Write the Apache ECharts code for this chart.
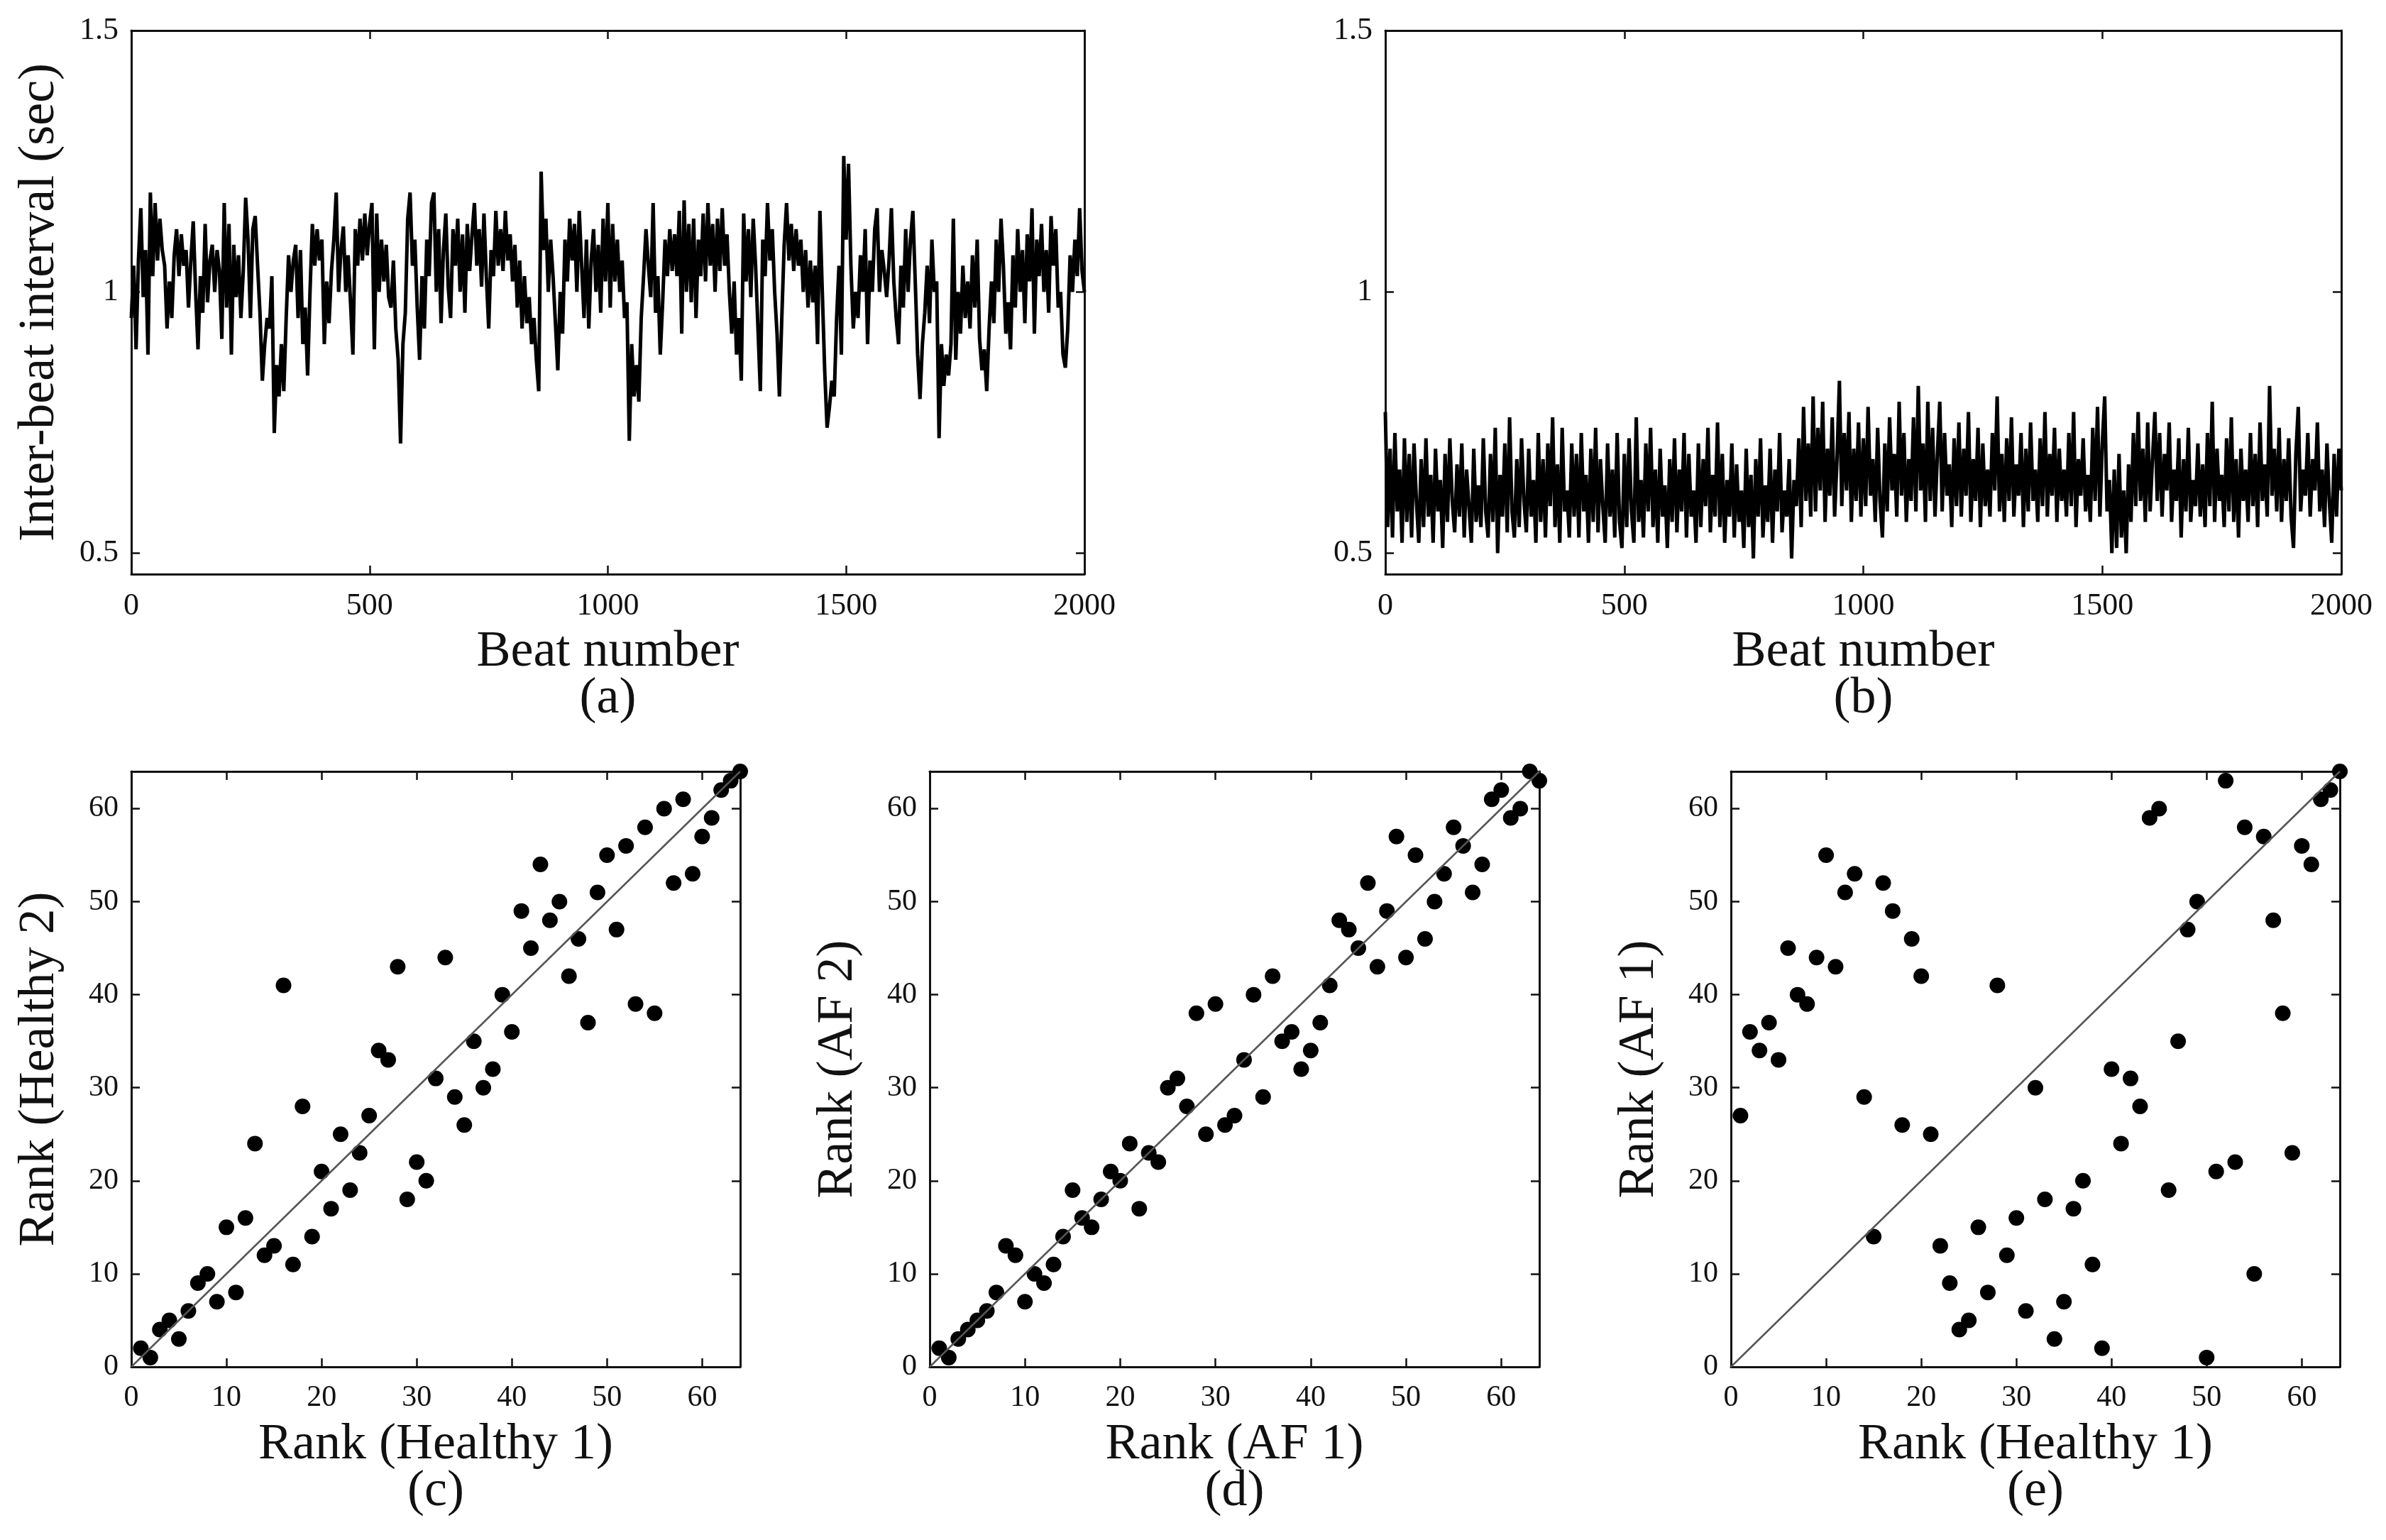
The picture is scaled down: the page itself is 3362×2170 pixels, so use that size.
<!DOCTYPE html>
<html>
<head>
<meta charset="utf-8">
<title>Inter-beat intervals and rank plots</title>
<script src="https://cdn.jsdelivr.net/npm/echarts@6/dist/echarts.min.js"></script>
<style>
  html, body { margin: 0; padding: 0; background: #fff; }
  #container { width: 3362px; height: 2170px; }
</style>
</head>
<body>
<div id="container"></div>
<script>
// inter-beat intervals (sec), one value every 5 beats (a) and (b)
var beatStep = 5;
var ibiHealthy = [
  0.95,1.05,0.89,1.06,1.16,0.99,1.08,0.88,1.19,1.03,1.17,1.06,1.14,1.08,1.05,0.93,1.02,0.95,1.07,1.12,
  1.03,1.11,1.05,1.08,0.97,1.06,1.135,1.00,0.89,1.03,0.96,1.13,0.98,1.06,1.09,1.00,1.08,1.04,0.91,1.17,
  0.97,1.13,0.88,1.09,0.99,1.07,0.95,1.04,1.18,1.10,0.95,1.12,1.145,1.05,0.96,0.83,0.90,0.95,0.93,1.03,
  0.73,0.86,0.80,0.90,0.81,0.95,1.07,1.00,1.06,1.09,0.95,1.08,0.90,0.97,0.84,1.00,1.13,1.05,1.12,1.06,
  1.10,0.90,1.02,0.94,1.04,1.10,1.19,1.00,1.08,1.125,1.00,1.07,0.98,0.88,1.12,1.05,1.14,1.06,1.15,1.07,
  1.13,1.17,0.89,1.15,1.00,1.10,1.02,1.09,0.99,0.97,1.06,0.93,0.87,0.71,0.90,0.96,1.14,1.19,1.05,1.10,
  0.97,0.87,1.03,0.93,1.10,1.03,1.17,1.19,1.00,1.12,0.94,1.08,1.15,1.01,0.95,1.12,1.05,1.14,1.00,1.11,
  0.96,1.13,1.04,1.11,1.17,1.05,1.12,1.01,1.15,1.03,0.93,1.08,1.03,1.155,1.05,1.12,1.04,1.155,1.06,1.11,
  1.02,1.09,0.97,1.06,0.93,1.03,0.94,0.99,0.90,0.95,0.87,0.81,1.23,1.08,1.14,1.00,1.10,1.03,0.94,0.85,
  1.00,0.92,1.10,1.02,1.14,1.06,1.13,1.00,1.155,1.05,0.95,1.10,0.93,1.06,1.12,1.00,1.09,0.96,1.14,1.02,
  1.17,0.97,1.13,1.02,1.10,1.00,1.06,0.95,0.98,0.715,0.90,0.80,0.86,0.79,0.95,1.03,1.12,1.05,0.99,1.17,
  0.96,1.03,0.88,0.98,1.10,1.03,1.12,1.04,1.11,1.03,1.155,0.92,1.175,1.00,1.13,0.98,1.14,0.95,1.10,1.03,
  1.15,1.02,1.17,1.05,1.13,1.00,1.14,1.04,1.16,1.05,1.11,1.00,0.92,1.02,0.88,0.95,0.83,1.15,1.02,1.12,
  0.99,1.14,1.05,0.93,0.81,1.10,1.03,1.17,1.06,1.12,1.00,0.92,0.80,0.95,1.09,1.17,1.06,1.13,1.04,1.12,
  1.05,1.10,1.00,1.08,0.97,1.06,0.98,1.05,0.90,1.155,1.00,0.85,0.74,0.78,0.83,0.80,0.95,1.05,0.88,1.26,
  1.10,1.245,1.05,0.93,1.00,0.95,1.07,1.00,1.12,0.90,1.06,1.00,1.12,1.16,1.00,1.08,1.04,0.99,1.06,1.16,
  1.02,0.95,0.90,1.05,0.97,1.12,1.00,1.10,1.155,1.02,0.88,0.795,0.90,0.96,1.05,0.94,1.10,1.00,1.02,0.72,
  0.90,0.82,0.88,0.84,0.90,1.14,0.87,1.00,0.92,1.05,0.95,1.02,0.93,1.07,0.97,1.10,0.91,0.85,0.89,0.81,
  0.93,1.02,0.94,1.10,1.00,1.14,1.05,0.92,0.98,0.89,1.07,0.97,1.12,1.00,1.08,0.94,1.11,1.02,1.16,0.92,
  1.10,1.03,1.13,1.00,1.08,0.96,1.145,1.05,1.12,0.97,1.00,0.88,0.855,0.93,1.07,1.00,1.10,1.03,1.16,1.04,
  1.00
];
var ibiAF = [
  0.77,0.55,0.70,0.53,0.73,0.58,0.66,0.52,0.72,0.56,0.69,0.53,0.71,0.60,0.52,0.68,0.55,0.72,0.57,0.65,
  0.52,0.70,0.58,0.64,0.51,0.69,0.56,0.72,0.60,0.54,0.67,0.57,0.71,0.53,0.66,0.59,0.52,0.70,0.56,0.63,
  0.55,0.72,0.58,0.53,0.69,0.56,0.74,0.50,0.65,0.57,0.71,0.54,0.76,0.58,0.53,0.68,0.55,0.72,0.60,0.54,
  0.70,0.57,0.64,0.52,0.73,0.56,0.68,0.53,0.71,0.59,0.76,0.55,0.67,0.52,0.74,0.58,0.62,0.53,0.71,0.57,
  0.69,0.53,0.73,0.58,0.65,0.52,0.70,0.56,0.74,0.54,0.68,0.59,0.52,0.71,0.57,0.66,0.53,0.73,0.56,0.51,
  0.69,0.55,0.72,0.58,0.52,0.76,0.56,0.64,0.53,0.71,0.58,0.74,0.55,0.66,0.52,0.70,0.57,0.63,0.51,0.68,
  0.56,0.72,0.54,0.66,0.58,0.73,0.53,0.69,0.57,0.62,0.52,0.71,0.55,0.68,0.59,0.74,0.54,0.65,0.57,0.75,
  0.55,0.69,0.52,0.64,0.57,0.71,0.53,0.67,0.56,0.62,0.51,0.70,0.55,0.65,0.49,0.68,0.57,0.72,0.53,0.63,
  0.56,0.70,0.52,0.66,0.58,0.73,0.54,0.62,0.57,0.68,0.49,0.64,0.59,0.72,0.55,0.78,0.60,0.71,0.57,0.80,
  0.58,0.74,0.62,0.79,0.56,0.70,0.61,0.76,0.57,0.68,0.83,0.59,0.73,0.62,0.77,0.56,0.70,0.60,0.75,0.57,
  0.72,0.59,0.78,0.61,0.68,0.56,0.74,0.60,0.53,0.71,0.58,0.76,0.62,0.69,0.57,0.79,0.61,0.73,0.56,0.68,
  0.60,0.76,0.58,0.82,0.62,0.71,0.56,0.79,0.60,0.74,0.57,0.69,0.79,0.58,0.73,0.61,0.67,0.55,0.72,0.59,
  0.75,0.57,0.70,0.61,0.77,0.56,0.68,0.60,0.74,0.55,0.71,0.59,0.66,0.57,0.73,0.62,0.80,0.58,0.69,0.56,
  0.72,0.60,0.76,0.57,0.67,0.61,0.73,0.55,0.70,0.58,0.75,0.60,0.66,0.56,0.72,0.59,0.77,0.57,0.69,0.61,
  0.74,0.56,0.70,0.60,0.66,0.57,0.73,0.59,0.77,0.55,0.68,0.61,0.72,0.58,0.65,0.56,0.74,0.60,0.78,0.57,
  0.71,0.80,0.58,0.64,0.50,0.66,0.51,0.69,0.53,0.62,0.50,0.67,0.56,0.73,0.59,0.77,0.60,0.70,0.56,0.75,
  0.58,0.68,0.77,0.60,0.73,0.57,0.69,0.62,0.75,0.56,0.66,0.60,0.72,0.53,0.68,0.58,0.74,0.56,0.64,0.59,
  0.71,0.57,0.67,0.55,0.73,0.59,0.79,0.56,0.70,0.60,0.65,0.55,0.72,0.58,0.76,0.56,0.68,0.53,0.70,0.60,
  0.66,0.56,0.73,0.59,0.69,0.55,0.75,0.60,0.67,0.57,0.82,0.61,0.70,0.58,0.74,0.56,0.68,0.60,0.72,0.57,
  0.51,0.69,0.78,0.58,0.66,0.61,0.73,0.57,0.68,0.62,0.75,0.58,0.66,0.55,0.71,0.60,0.52,0.69,0.57,0.70,
  0.62
];

// rank plots: x rank 1..64 against the rank of the paired series
var rankIndex = [1,2,3,4,5,6,7,8,9,10,11,12,13,14,15,16,17,18,19,20,21,22,23,24,25,26,27,28,29,30,31,32,
  33,34,35,36,37,38,39,40,41,42,43,44,45,46,47,48,49,50,51,52,53,54,55,56,57,58,59,60,61,62,63,64];
var rankHealthy2 = [2,1,4,5,3,6,9,10,7,15,8,16,24,12,13,41,11,28,14,21,17,25,19,23,27,34,33,43,18,22,20,31,
  44,29,26,35,30,32,40,36,49,45,54,48,50,42,46,37,51,55,47,56,39,58,38,60,52,61,53,57,59,62,63,64];
var rankAF2 = [2,1,3,4,5,6,8,13,12,7,10,9,11,14,19,16,15,18,21,20,24,17,23,22,30,31,28,38,25,39,26,27,
  33,40,29,42,35,36,32,34,37,41,48,47,45,52,43,49,57,44,55,46,50,53,58,56,51,54,61,62,59,60,64,63];
var rankAF1 = [27,36,34,37,33,45,40,39,44,55,43,51,53,29,14,52,49,26,46,42,25,13,9,4,5,15,8,41,12,16,6,30,
  18,3,7,17,20,11,2,32,24,31,28,59,60,19,35,47,50,1,21,63,22,58,10,57,48,38,23,56,54,61,62,64];

var beatTicks = [0, 500, 1000, 1500, 2000];
var ibiTicks = [0.5, 1, 1.5];
var rankTicks = [0, 10, 20, 30, 40, 50, 60];

var FONT = 'Liberation Serif';
var INK = '#111';

var grids = [
  { left: 185, top: 43, width: 1343, height: 766 },   // (a)
  { left: 1952, top: 43, width: 1347, height: 766 },  // (b)
  { left: 185, top: 1087, width: 858, height: 839 },  // (c)
  { left: 1310, top: 1087, width: 859, height: 839 }, // (d)
  { left: 2439, top: 1087, width: 858, height: 839 }  // (e)
];

function plain(v) { return String(v); }

function boxX(grid, min, max, ticks, name, fs) {
  var line = { show: true, onZero: false, lineStyle: { color: INK, width: 3 } };
  var tick = { show: true, inside: true, length: 12, customValues: ticks, lineStyle: { color: INK, width: 2.5 } };
  return [{
    type: 'value', gridIndex: grid, position: 'bottom', min: min, max: max,
    axisLine: line, axisTick: tick, splitLine: { show: false },
    axisLabel: { customValues: ticks, formatter: plain, fontFamily: FONT, fontSize: fs, lineHeight: fs, color: INK, margin: 23 },
    name: name, nameLocation: 'middle', nameGap: 77,
    nameTextStyle: { fontFamily: FONT, fontSize: 72, lineHeight: 66, color: INK }
  }, {
    type: 'value', gridIndex: grid, position: 'top', min: min, max: max,
    axisLine: line, axisTick: tick, splitLine: { show: false }, axisLabel: { show: false }
  }];
}

function boxY(grid, min, max, ticks, name, fs) {
  var line = { show: true, onZero: false, lineStyle: { color: INK, width: 3 } };
  var tick = { show: true, inside: true, length: 12, customValues: ticks, lineStyle: { color: INK, width: 2.5 } };
  return [{
    type: 'value', gridIndex: grid, position: 'left', min: min, max: max,
    axisLine: line, axisTick: tick, splitLine: { show: false },
    axisLabel: { customValues: ticks, formatter: plain, fontFamily: FONT, fontSize: fs, color: INK, margin: 18 },
    name: name, nameLocation: 'middle', nameGap: 89,
    nameTextStyle: { fontFamily: FONT, fontSize: 72, lineHeight: 80, color: INK }
  }, {
    type: 'value', gridIndex: grid, position: 'right', min: min, max: max,
    axisLine: line, axisTick: tick, splitLine: { show: false }, axisLabel: { show: false }
  }];
}

var xAxes = [].concat(
  boxX(0, 0, 2000, beatTicks, 'Beat number\n(a)', 44),
  boxX(1, 0, 2000, beatTicks, 'Beat number\n(b)', 44),
  boxX(2, 0, 64, rankTicks, 'Rank (Healthy 1)\n(c)', 42),
  boxX(3, 0, 64, rankTicks, 'Rank (AF 1)\n(d)', 42),
  boxX(4, 0, 64, rankTicks, 'Rank (Healthy 1)\n(e)', 42)
);
var yAxes = [].concat(
  boxY(0, 0.46, 1.5, ibiTicks, 'Inter-beat interval (sec)', 44),
  boxY(1, 0.46, 1.5, ibiTicks, '', 44),
  boxY(2, 0, 64, rankTicks, 'Rank (Healthy 2)', 42),
  boxY(3, 0, 64, rankTicks, 'Rank (AF 2)', 42),
  boxY(4, 0, 64, rankTicks, 'Rank (AF 1)', 42)
);

function traceSeries(grid, values) {
  return {
    type: 'line', xAxisIndex: grid * 2, yAxisIndex: grid * 2,
    data: values.map(function (v, i) { return [i * beatStep, v]; }),
    symbol: 'none', lineStyle: { color: '#000', width: 5 }, silent: true
  };
}

function rankSeries(grid, ranks) {
  return [{
    type: 'scatter', xAxisIndex: grid * 2, yAxisIndex: grid * 2, z: 2,
    data: rankIndex.map(function (x, i) { return [x, ranks[i]]; }),
    symbolSize: 22, itemStyle: { color: '#000', opacity: 1 }, silent: true
  }, {
    type: 'line', xAxisIndex: grid * 2, yAxisIndex: grid * 2, z: 5,
    data: [[0, 0], [64, 64]], symbol: 'none',
    lineStyle: { color: '#555', width: 2.5 }, silent: true
  }];
}

var myChart = echarts.init(document.getElementById('container'));
var option = {
  animation: false,
  backgroundColor: '#fff',
  grid: grids,
  xAxis: xAxes,
  yAxis: yAxes,
  series: [].concat(
    traceSeries(0, ibiHealthy),
    traceSeries(1, ibiAF),
    rankSeries(2, rankHealthy2),
    rankSeries(3, rankAF2),
    rankSeries(4, rankAF1)
  )
};
myChart.setOption(option);
</script>
</body>
</html>
